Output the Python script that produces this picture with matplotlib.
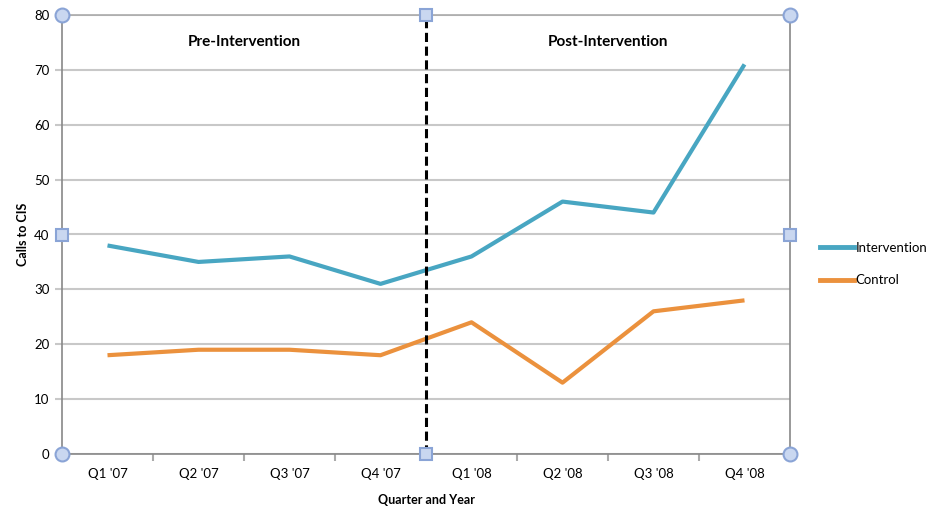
import matplotlib
matplotlib.use("Agg")
import matplotlib.pyplot as plt
from matplotlib.lines import Line2D

quarters = ["Q1 '07", "Q2 '07", "Q3 '07", "Q4 '07", "Q1 '08", "Q2 '08", "Q3 '08", "Q4 '08"]
intervention = [38, 35, 36, 31, 36, 46, 44, 71]
control = [18, 19, 19, 18, 24, 13, 26, 28]
y_ticks = [0, 10, 20, 30, 40, 50, 60, 70, 80]

plt.rcParams['font.family'] = ['Lato', 'DejaVu Sans']

fig = plt.figure(figsize=(9.39, 5.14), dpi=100)
ax = fig.add_axes([62/939, 60/514, (790-62)/939, (454-15)/514])

x = list(range(len(quarters)))
teal = '#48A6C2'
orange = '#EB913D'
ax.plot(x, intervention, color=teal, lw=3, solid_capstyle='butt', label='Intervention', zorder=3)
ax.plot(x, control, color=orange, lw=3, solid_capstyle='butt', label='Control', zorder=3)

ax.set_xlim(-0.5, len(quarters) - 0.5)
ax.set_ylim(0, 80)
ax.set_yticks(y_ticks)
ax.set_yticklabels([str(v) for v in y_ticks], fontsize=9.5)
ax.yaxis.grid(True, color='#c8c8c8', lw=1.5)
ax.set_axisbelow(True)

ax.set_xticks(x)
ax.set_xticklabels(quarters, fontsize=9.5)
ax.tick_params(axis='x', length=0, pad=10)
ax.set_xticks([i + 0.5 for i in range(len(quarters) - 1)], minor=True)
ax.tick_params(axis='x', which='minor', length=5, color='#aaaaaa', width=1.5)
ax.tick_params(axis='y', length=5, color='#c8c8c8', width=1.5, pad=4)

for s in ax.spines.values():
    s.set_color('#888888')
    s.set_linewidth(1.2)
ax.spines['top'].set_color('#aaaaaa')

ax.axvline(3.5, color='black', lw=2.2, ls=(0, (3, 1.5)), zorder=4)

ax.text(1.5, 75, 'Pre-Intervention', ha='center', va='center', fontsize=11, fontweight='bold')
ax.text(5.5, 75, 'Post-Intervention', ha='center', va='center', fontsize=11, fontweight='bold')

ax.set_ylabel('Calls to CIS', fontsize=9, fontweight='bold', labelpad=4)
ax.set_xlabel('Quarter and Year', fontsize=9, fontweight='bold', labelpad=10)

# selection handles
hfc = '#c9d7f0'
hec = '#8aa4d6'
for (hx, hy) in [(0, 0), (1, 0), (0, 1), (1, 1)]:
    ax.plot(hx, hy, 'o', transform=ax.transAxes, ms=10, mfc=hfc, mec=hec, mew=1.5, clip_on=False, zorder=6)
for (hx, hy) in [(4/8, 0), (4/8, 1), (0, 0.5), (1, 0.5)]:
    ax.plot(hx, hy, 's', transform=ax.transAxes, ms=9, mfc=hfc, mec=hec, mew=1.5, clip_on=False, zorder=6)

leg = fig.legend(handles=[Line2D([], [], color=teal, lw=3.5), Line2D([], [], color=orange, lw=3.5)],
                 labels=['Intervention', 'Control'], loc='center left',
                 bbox_to_anchor=(808/939, 1 - 264/514), frameon=False, fontsize=9.5,
                 handlelength=2.6, handletextpad=0.1, labelspacing=1.55)

fig.savefig('out.png', dpi=100)
